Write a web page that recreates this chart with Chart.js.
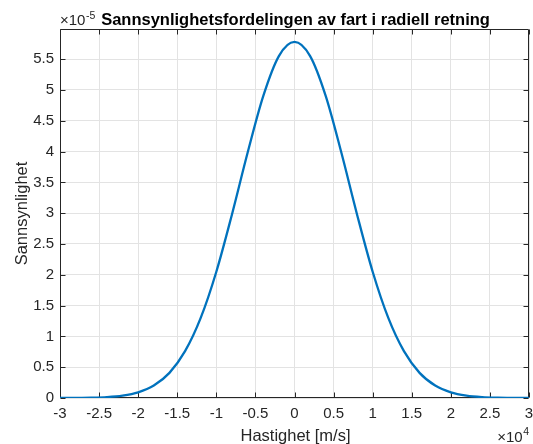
<!DOCTYPE html>
<html>
<head>
<meta charset="utf-8">
<script src="https://cdn.jsdelivr.net/npm/chart.js@4.4.1/dist/chart.umd.min.js"></script>
<style>
  html, body { margin: 0; padding: 0; background: #fff; }
  #wrap { width: 533px; height: 444px; }
</style>
</head>
<body>
<div id="wrap"><canvas id="c" width="533" height="444"></canvas></div>
<script>
// Velocity (x 10^4 m/s) and probability density (x 10^-5)
const velocity = [-3.0, -2.8, -2.6, -2.4, -2.2, -2.0, -1.8, -1.6, -1.4, -1.2, -1.0, -0.8, -0.6, -0.4, -0.2,
                  0.0, 0.2, 0.4, 0.6, 0.8, 1.0, 1.2, 1.4, 1.6, 1.8, 2.0, 2.2, 2.4, 2.6, 2.8, 3.0];
const density = [0.0005, 0.0017, 0.0053, 0.015, 0.039, 0.092, 0.202, 0.408, 0.76, 1.30, 2.05, 2.98, 3.98, 4.90, 5.55,
                 5.78, 5.55, 4.90, 3.98, 2.98, 2.05, 1.30, 0.76, 0.408, 0.202, 0.092, 0.039, 0.015, 0.0053, 0.0017, 0.0005];
const xTicks = [-3, -2.5, -2, -1.5, -1, -0.5, 0, 0.5, 1, 1.5, 2, 2.5, 3];
const yTicks = [0, 0.5, 1, 1.5, 2, 2.5, 3, 3.5, 4, 4.5, 5, 5.5];
const titleText = 'Sannsynlighetsfordelingen av fart i radiell retning';
const xLabel = 'Hastighet [m/s]';
const yLabel = 'Sannsynlighet';

const FONT = '"Liberation Sans", Arial, Helvetica, sans-serif';
const TXT = '#262626';

const decor = {
  id: 'decor',
  beforeDatasetsDraw(chart) {
    const ctx = chart.ctx, a = chart.chartArea;
    const xs = chart.scales.x, ys = chart.scales.y;
    ctx.save();
    ctx.strokeStyle = TXT;
    ctx.lineWidth = 1;
    const L = Math.round(a.left) + 0.5, R = Math.round(a.right) - 0.5;
    const T = Math.round(a.top) + 0.5, B = Math.round(a.bottom) - 0.5;
    ctx.beginPath();
    ctx.rect(L, T, R - L, B - T);
    ctx.stroke();
    const tl = 5;
    ctx.beginPath();
    xTicks.forEach(v => {
      const px = Math.round(xs.getPixelForValue(v)) + 0.5;
      ctx.moveTo(px, B); ctx.lineTo(px, B - tl);
      ctx.moveTo(px, T); ctx.lineTo(px, T + tl);
    });
    yTicks.forEach(v => {
      const py = Math.round(ys.getPixelForValue(v)) + 0.5;
      ctx.moveTo(L, py); ctx.lineTo(L + tl, py);
      ctx.moveTo(R, py); ctx.lineTo(R - tl, py);
    });
    ctx.stroke();
    ctx.restore();
  },
  afterDraw(chart) {
    const ctx = chart.ctx, a = chart.chartArea;
    ctx.save();
    ctx.fillStyle = TXT;
    // exponent top-left
    ctx.textAlign = 'left';
    ctx.textBaseline = 'alphabetic';
    ctx.font = '15px ' + FONT;
    ctx.fillText('\u00d710', a.left, 25);
    let w = ctx.measureText('\u00d710').width;
    ctx.font = '10.5px ' + FONT;
    ctx.fillText('-5', a.left + w + 0.5, 18.5);
    // exponent bottom-right
    ctx.font = '15px ' + FONT;
    const w2 = ctx.measureText('\u00d710').width;
    ctx.font = '10.5px ' + FONT;
    const w3 = ctx.measureText('4').width;
    const startX = a.right - w2 - w3 - 0.5;
    ctx.font = '15px ' + FONT;
    ctx.fillText('\u00d710', startX, 442);
    ctx.font = '10.5px ' + FONT;
    ctx.fillText('4', startX + w2 + 0.5, 434.5);
    // title
    ctx.fillStyle = '#000';
    ctx.font = 'bold 16.5px ' + FONT;
    ctx.textAlign = 'center';
    ctx.fillText(titleText, (a.left + a.right) / 2 + 1, 24.5);
    // x label
    ctx.fillStyle = TXT;
    ctx.font = '16.5px ' + FONT;
    ctx.fillText(xLabel, (a.left + a.right) / 2 + 1, 440.5);
    // y label
    ctx.translate(26.5, (a.top + a.bottom) / 2);
    ctx.rotate(-Math.PI / 2);
    ctx.textBaseline = 'alphabetic';
    ctx.fillText(yLabel, 0, 0);
    ctx.restore();
  }
};

new Chart(document.getElementById('c'), {
  type: 'line',
  data: {
    datasets: [{
      data: velocity.map((v, i) => ({ x: v, y: density[i] })),
      borderColor: '#0072BD',
      borderWidth: 2.3,
      pointRadius: 0,
      cubicInterpolationMode: 'monotone',
      fill: false
    }]
  },
  options: {
    responsive: false,
    animation: false,
    devicePixelRatio: 1,
    layout: { padding: { top: 29, right: 4, left: 0, bottom: 0 } },
    plugins: { legend: { display: false }, tooltip: { enabled: false }, title: { display: false } },
    scales: {
      x: {
        type: 'linear',
        min: -3, max: 3,
        afterBuildTicks: s => { s.ticks = xTicks.map(v => ({ value: v })); },
        afterFit: s => { s.height = 46; s.paddingLeft = 0; s.paddingRight = 0; },
        ticks: {
          color: TXT, font: { size: 15, family: FONT }, padding: 7, maxRotation: 0,
          autoSkip: false,
          callback: v => String(v)
        },
        grid: { color: '#e3e3e3', drawTicks: false, lineWidth: 1 },
        border: { display: false }
      },
      y: {
        type: 'linear',
        min: 0, max: 5.99,
        afterBuildTicks: s => { s.ticks = yTicks.map(v => ({ value: v })); },
        afterFit: s => { s.width = 60; s.paddingTop = 0; s.paddingBottom = 0; },
        ticks: {
          color: TXT, font: { size: 15, family: FONT }, padding: 6,
          autoSkip: false,
          callback: v => String(v)
        },
        grid: { color: '#e3e3e3', drawTicks: false, lineWidth: 1 },
        border: { display: false }
      }
    }
  },
  plugins: [decor]
});
</script>
</body>
</html>
